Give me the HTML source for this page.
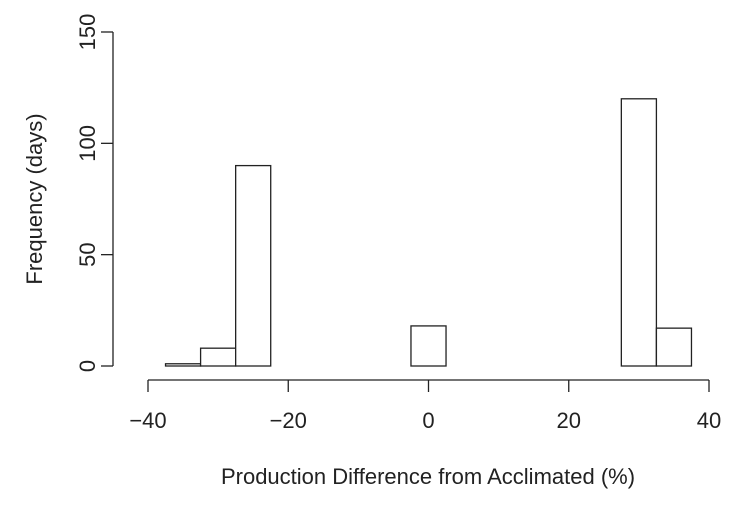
<!DOCTYPE html>
<html><head><meta charset="utf-8"><style>
body{margin:0;background:#fff}
svg text{font-family:"Liberation Sans",Arial,sans-serif;font-size:22px;fill:#222}
</style></head><body>
<svg id="chart" width="737" height="500" viewBox="0 0 737 500">
<g id="bars"></g>
<g id="axes"></g>
<text x="428" y="484" text-anchor="middle">Production Difference from Acclimated (%)</text>
<text transform="translate(42,199) rotate(-90)" text-anchor="middle">Frequency (days)</text>
</svg>
<script>
const binStarts=[-37.5,-32.5,-27.5,-22.5,-17.5,-12.5,-7.5,-2.5,2.5,7.5,12.5,17.5,22.5,27.5,32.5];
const counts=[1,8,90,0,0,0,0,18,0,0,0,0,0,120,17];
const binWidth=5;
const xTicks=[-40,-20,0,20,40];
const xTickLabels=["\u221240","\u221220","0","20","40"];
const yTicks=[0,50,100,150];
const yTickLabels=["0","50","100","150"];
const NS="http://www.w3.org/2000/svg";
const sx=v=>428.5+v*7.0125;
const sy=v=>366-v*2.2267;
function mk(tag,attrs,parent){const e=document.createElementNS(NS,tag);for(const k in attrs)e.setAttribute(k,attrs[k]);parent.appendChild(e);return e;}
const bars=document.getElementById('bars'),axes=document.getElementById('axes');
binStarts.forEach((b,i)=>{
  const x0=sx(b),x1=sx(b+binWidth),y=sy(counts[i]);
  const r=mk('rect',{x:x0,y:y,width:x1-x0,height:Math.max(0,366-y),fill:'#fff',stroke:'#222','stroke-width':1.3},bars);
  
  
});
let l=mk('line',{x1:sx(xTicks[0]),x2:sx(xTicks[xTicks.length-1]),y1:380,y2:380,stroke:'#222','stroke-width':1.3},axes);


xTicks.forEach((t,i)=>{
  mk('line',{x1:sx(t),x2:sx(t),y1:380,y2:392,stroke:'#222','stroke-width':1.3},axes);
  const tx=mk('text',{x:sx(t),y:428,'text-anchor':'middle'},axes);
  tx.textContent=xTickLabels[i];
  
  
});
l=mk('line',{x1:113,x2:113,y1:sy(yTicks[0]),y2:sy(yTicks[yTicks.length-1]),stroke:'#222','stroke-width':1.3},axes);


yTicks.forEach((t,i)=>{
  mk('line',{x1:101,x2:113,y1:sy(t),y2:sy(t),stroke:'#222','stroke-width':1.3},axes);
  const tx=mk('text',{transform:`translate(95,${sy(t)}) rotate(-90)`,'text-anchor':'middle'},axes);
  tx.textContent=yTickLabels[i];
  
  
});
</script>
</body></html>
